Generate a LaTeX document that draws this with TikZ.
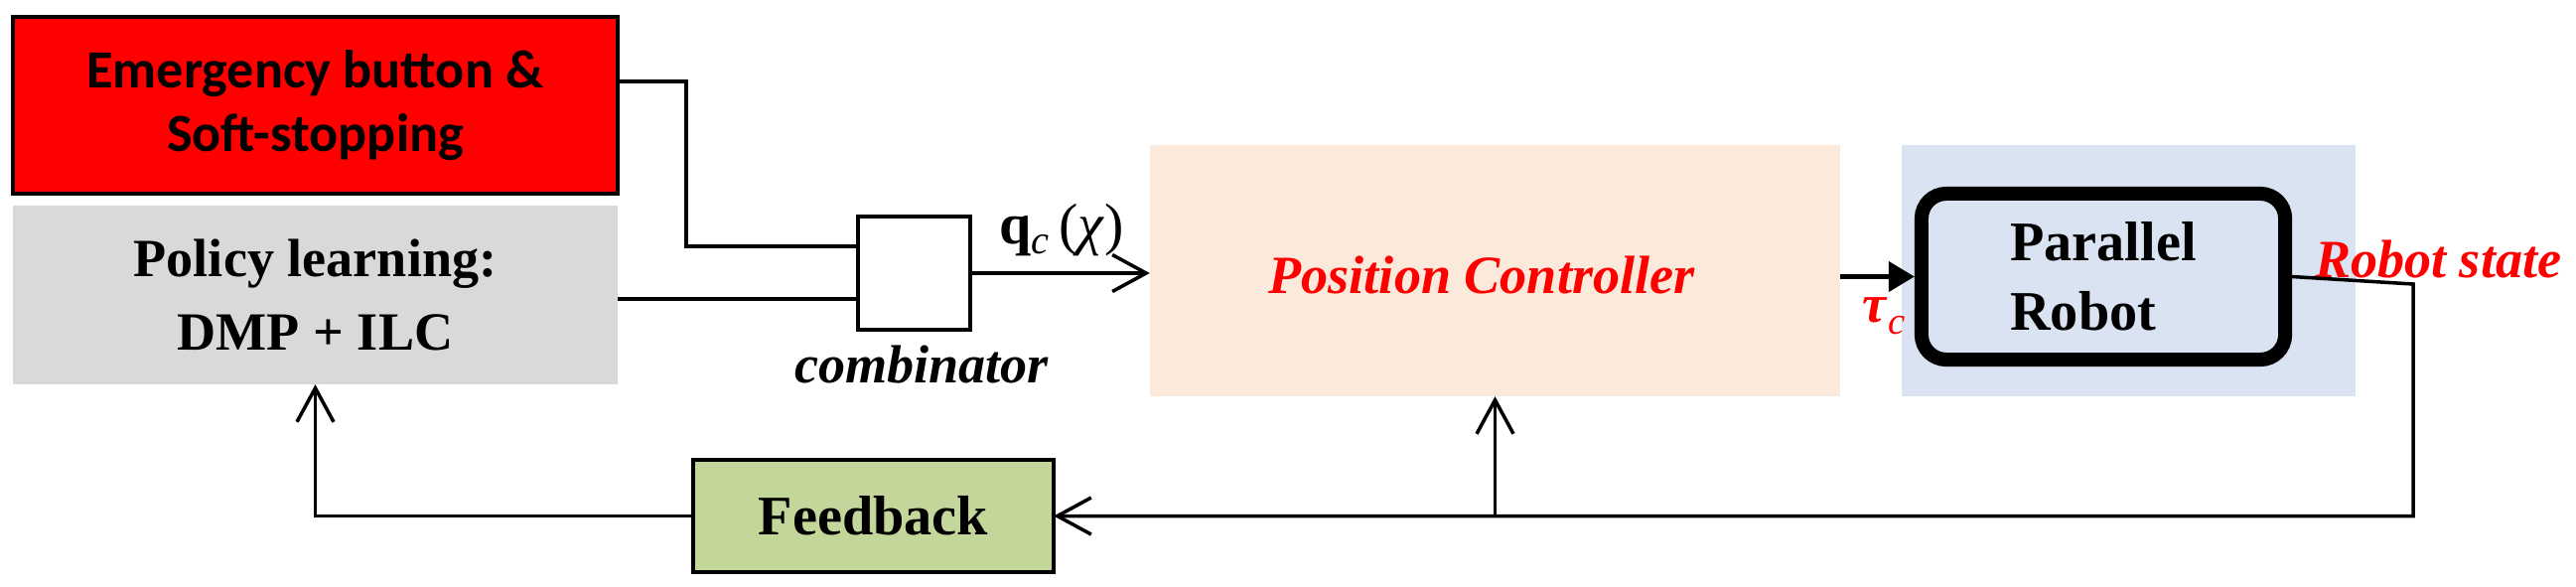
\documentclass[tikz,border=0pt]{standalone}
\usepackage{fontspec}
\setmainfont{Liberation Serif}
\newfontfamily\calib{Carlito}
\usetikzlibrary{arrows.meta}
\definecolor{redbox}{RGB}{255,0,0}
\definecolor{greybox}{RGB}{217,217,217}
\definecolor{peach}{RGB}{251,233,219}
\definecolor{lblue}{RGB}{218,227,241}
\definecolor{olive}{RGB}{196,215,155}
\begin{document}
\begin{tikzpicture}[x=0.01cm,y=-0.01cm,
  lbl/.style={inner sep=0pt, outer sep=0pt},
  box/.style={inner sep=0pt, outer sep=0pt},
  wire/.style={line width=1pt},
  openarr/.style={wire,-{Straight Barb[length=3.4mm,width=3.7mm]}},
  txt/.style={font=\fontsize{15.4}{18}\selectfont\bfseries, align=center}
]
\useasboundingbox (0,0) rectangle (2594,590);
% blocks
\node[box, fill=redbox, draw=black, line width=1pt, minimum width=6.09cm, minimum height=1.78cm,
      font=\calib\fontsize{15.4}{18}\selectfont\bfseries, align=center] (emerg) at (317.5,106)
      {Emergency button \&\\Soft-stopping};
\node[box, fill=greybox, minimum width=6.09cm, minimum height=1.80cm, txt] (policy) at (317.5,297)
      {Policy learning:\\[3pt]DMP + ILC};
\node[box, draw, line width=1.2pt, fill=white, minimum width=1.13cm, minimum height=1.14cm] (comb) at (920.5,275) {};
\node[box, fill=peach, minimum width=6.95cm, minimum height=2.53cm] (pc) at (1505.5,272.5) {};
\node[lbl, font=\fontsize{15.4}{18}\selectfont\bfseries\itshape, text=red, anchor=base] (pclbl) at (1492,295) {Position Controller};
\node[box, fill=lblue, minimum width=4.57cm, minimum height=2.53cm] (bg) at (2143.5,272.5) {};
\node[draw, line width=4pt, rounded corners=0.25cm, fill=lblue, inner sep=0pt,
      minimum width=3.66cm, minimum height=1.67cm, font=\fontsize{16}{19}\selectfont\bfseries, align=left] (robot) at (2118,278.5)
      {Parallel\\[1pt]Robot};
\node[box, draw, line width=1.2pt, fill=olive, minimum width=3.63cm, minimum height=1.13cm,
      font=\fontsize{16}{19}\selectfont\bfseries] (fb) at (879.5,519.5) {Feedback};
% labels
\node[lbl, font=\fontsize{15.4}{18}\selectfont\bfseries\itshape] (comblbl) at (928,367) {combinator};
\node[lbl, font=\fontsize{16.5}{19}\selectfont] (qlbl) at (1069,232)
      {\textbf{q}\raisebox{-0.35ex}{\fontsize{11.5}{12}\selectfont\textit{c}}\,(\textit{χ})};
\node[lbl, anchor=base west, text=red, font=\fontsize{15.4}{18}\selectfont\bfseries\itshape] (rs) at (2331,279) {Robot state};
\node[lbl, text=red, font=\fontsize{15.4}{18}\selectfont] (tau) at (1897,318)
      {\textbf{\textit{τ}}\raisebox{-0.5ex}{\fontsize{11}{11}\selectfont\textit{c}}};
% connectors
\draw[wire] ([yshift=0.24cm]emerg.east) -| ([yshift=0.27cm,xshift=-1.73cm]comb.west) -- ([yshift=0.27cm]comb.west);
\draw[wire] ([yshift=-0.26cm]comb.west -| policy.east) -- ([yshift=-0.26cm]comb.west);
\draw[openarr] (comb.east) -- (comb.east -| pc.west);
\draw[line width=1.2pt, -{Triangle[length=2.6mm,width=3mm]}] (pc.east |- robot.west) -- (robot.west);
\coordinate (rc1) at (2430,286);
\coordinate (rc) at (2430,519.5);
\draw[openarr] (robot.east) -- (rc1) -- (rc) -- (fb.east);
\draw[openarr] (pc.south |- fb.east) -- (pc.south);
\draw[openarr] (fb.west) -| (policy.south);
\end{tikzpicture}
\end{document}
